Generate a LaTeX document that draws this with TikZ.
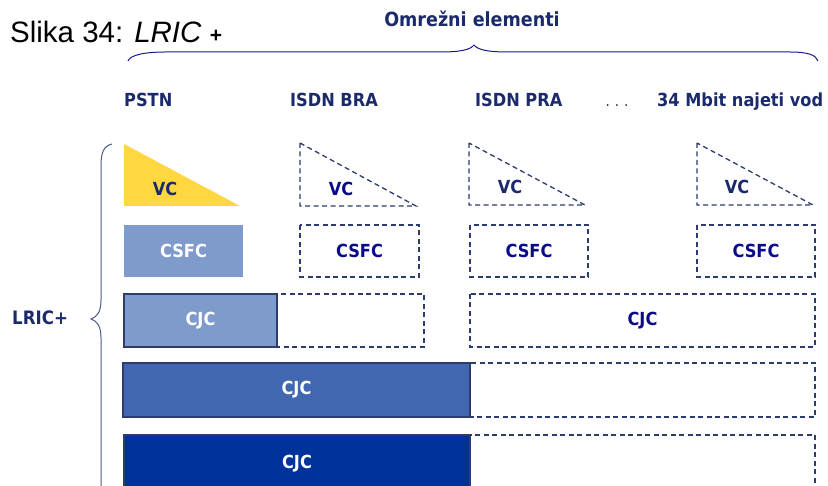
\documentclass[tikz,border=0pt]{standalone}
\usepackage{fontspec}
\setmainfont{Liberation Sans}
\newfontfamily\dv{DejaVu Sans Condensed}
\definecolor{navy}{HTML}{1B2A6B}
\definecolor{dblue}{HTML}{0A0A8C}
\definecolor{dashc}{HTML}{2E3B6E}
\definecolor{ylw}{HTML}{FFD740}
\definecolor{lblue}{HTML}{7F9BCB}
\definecolor{mblue}{HTML}{4267B1}
\definecolor{kblue}{HTML}{003399}
\definecolor{bracec}{HTML}{1A1A8C}
\definecolor{bracel}{HTML}{4A5A8A}
\tikzset{
  hdr/.style={anchor=base west, inner sep=0, text=navy, font=\dv\bfseries\fontsize{18}{20}\selectfont},
  lbl/.style={inner sep=0, font=\dv\bfseries\fontsize{18}{20}\selectfont},
  dashbox/.style={draw=dashc, line width=1.3pt, dash pattern=on 5pt off 3.5pt},
  solidbox/.style={draw=dashc, line width=1.2pt},
}
\begin{document}
\begin{tikzpicture}[x=1pt,y=-1pt]
\clip (0,0) rectangle (828,486);
\fill[white] (0,0) rectangle (828,486);

% title
\node[anchor=base west, inner sep=0, font=\fontsize{29.5}{32}\selectfont] (title) at (10,43)
  {Slika 34: \textit{LRIC} {\bfseries\fontsize{21}{22}\selectfont +}};

% top brace and label
\node[anchor=base, inner sep=0, text=navy, font=\dv\bfseries\fontsize{19.5}{21}\selectfont] (omr) at (472,27) {Omrežni elementi};
\draw[bracec, line width=1pt] (128,61) .. controls (130,55) and (145,52) .. (165,52) -- (440,52)
  .. controls (460,52) and (470,50) .. (474,45) .. controls (478,50) and (488,52) .. (508,52)
  -- (790,52) .. controls (808,52) and (816,55) .. (818,61);

% column headers
\node[hdr] (pstn) at (124,107) {PSTN};
\node[hdr] (bra) at (290,107) {ISDN BRA};
\node[hdr] (pra) at (475,107) {ISDN PRA};
\node[anchor=base, inner sep=0, text=navy, font=\dv\fontsize{15}{16}\selectfont] (dots) at (617,107) {.\,\,.\,\,.};
\node[hdr] (mbit) at (657,107) {34 Mbit najeti vod};

% left brace and label
\draw[bracel, line width=1pt] (112,144) .. controls (104,146) and (101,152) .. (101,165) -- (101,300)
  .. controls (101,312) and (97,317) .. (91,319) .. controls (97,321) and (101,326) .. (101,338) -- (101,500);
\node[anchor=base west, inner sep=0, text=navy, font=\dv\bfseries\fontsize{18.5}{20}\selectfont] (lric) at (12,325) {LRIC+};

% row 1: VC triangles
\fill[ylw] (124,144) -- (124,206) -- (240,206) -- cycle;
\node[lbl, text=navy] (vc1) at (165,189) {VC};
\draw[dashbox] (300,143) -- (300,206) -- (416,206) -- cycle;
\node[lbl, text=dblue] (vc2) at (341,189) {VC};
\draw[dashbox] (469,143) -- (469,205) -- (585,205) -- cycle;
\node[lbl, text=navy] (vc3) at (510,187) {VC};
\draw[dashbox] (697,143) -- (697,205) -- (813,205) -- cycle;
\node[lbl, text=navy] (vc4) at (737,187) {VC};

% row 2: CSFC
\fill[lblue] (124,225) rectangle (243,277);
\node[lbl, text=white] (csfc1) at (183.5,251) {CSFC};
\draw[dashbox] (300,225) rectangle (419,277);
\node[lbl, text=dblue] (csfc2) at (359.5,251) {CSFC};
\draw[dashbox] (470,225) rectangle (588,277);
\node[lbl, text=dblue] (csfc3) at (529,251) {CSFC};
\draw[dashbox] (697,225) rectangle (815,277);
\node[lbl, text=dblue] (csfc4) at (756,251) {CSFC};

% row 3
\draw[dashbox] (124,294) rectangle (424,347);
\fill[lblue] (124,294) rectangle (277,347);
\draw[solidbox] (124,294) rectangle (277,347);
\node[lbl, text=white] (cjc1) at (200.5,321) {CJC};
\draw[dashbox] (470,294) rectangle (815,347);
\node[lbl, text=dblue] (cjc2) at (642.5,321) {CJC};

% row 4
\draw[dashbox] (123,363) rectangle (815,417);
\fill[mblue] (123,363) rectangle (470,417);
\draw[solidbox] (123,363) rectangle (470,417);
\node[lbl, text=white] (cjc3) at (296.5,390) {CJC};

% row 5
\draw[dashbox] (124,435) rectangle (815,500);
\fill[kblue] (124,435) rectangle (470,500);
\draw[solidbox] (124,435) rectangle (470,500);
\node[lbl, text=white] (cjc4) at (297,464) {CJC};
\end{tikzpicture}
\end{document}
